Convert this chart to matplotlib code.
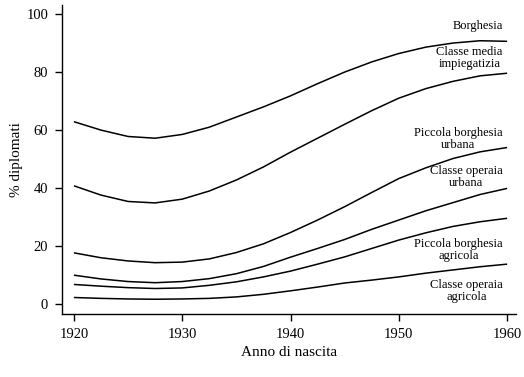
import matplotlib
matplotlib.use("Agg")
import matplotlib.pyplot as plt

years = [1920, 1922.5, 1925, 1927.5, 1930, 1932.5, 1935, 1937.5, 1940,
         1942.5, 1945, 1947.5, 1950, 1952.5, 1955, 1957.5, 1960]

borghesia = [62.9, 60.0, 57.8, 57.2, 58.5, 61.0, 64.5, 68.0, 71.8,
             76.0, 80.0, 83.5, 86.4, 88.6, 90.0, 90.8, 90.6]
classe_media = [40.8, 37.6, 35.4, 34.9, 36.2, 39.0, 42.8, 47.3, 52.4,
                57.2, 62.0, 66.7, 71.0, 74.3, 76.8, 78.7, 79.6]
piccola_borghesia_urbana = [17.7, 16.0, 14.9, 14.3, 14.5, 15.6, 17.8, 20.8, 24.7,
                            29.0, 33.6, 38.5, 43.3, 47.0, 50.2, 52.5, 54.0]
classe_operaia_urbana = [10.0, 8.7, 7.8, 7.4, 7.8, 8.8, 10.5, 13.0, 16.2,
                         19.2, 22.3, 25.8, 29.0, 32.2, 35.0, 37.8, 39.9]
piccola_borghesia_agricola = [6.8, 6.2, 5.7, 5.4, 5.6, 6.5, 7.7, 9.4, 11.4,
                              13.8, 16.3, 19.2, 22.1, 24.6, 26.8, 28.4, 29.6]
classe_operaia_agricola = [2.3, 2.0, 1.8, 1.7, 1.8, 2.0, 2.5, 3.4, 4.6,
                           5.9, 7.3, 8.3, 9.4, 10.7, 11.8, 12.9, 13.8]

series = [borghesia, classe_media, piccola_borghesia_urbana,
          classe_operaia_urbana, piccola_borghesia_agricola, classe_operaia_agricola]

labels = ["Borghesia", "Classe media\nimpiegatizia", "Piccola borghesia\nurbana",
          "Classe operaia\nurbana", "Piccola borghesia\nagricola", "Classe operaia\nagricola"]
label_y = [95.9, 84.8, 56.9, 43.8, 18.6, 4.5]

x_ticks = [1920, 1930, 1940, 1950, 1960]
y_ticks = [0, 20, 40, 60, 80, 100]

plt.rcParams['font.family'] = ['Liberation Serif', 'DejaVu Serif']

fig = plt.figure(figsize=(5.24, 3.77), dpi=100)
ax = fig.add_axes([0.1183, 0.167, 0.866, 0.8196])

for s in series:
    ax.plot(years, s, color='black', linewidth=1.1, solid_capstyle='butt')

for lab, yv in zip(labels, label_y):
    ax.text(1959.6, yv, lab, ha='right', va='center', fontsize=9,
            multialignment='center', linespacing=1.0)

ax.set_xlim(1918.9, 1960.8)
ax.set_ylim(-3.4, 103.1)
ax.set_xticks(x_ticks)
ax.set_yticks(y_ticks)
ax.spines['top'].set_visible(False)
ax.spines['right'].set_visible(False)
for sp in ['left', 'bottom']:
    ax.spines[sp].set_linewidth(1.0)
ax.tick_params(direction='out', length=5, width=1.0, labelsize=10.5, pad=5)
ax.set_xlabel("Anno di nascita", fontsize=11, labelpad=4)
ax.set_ylabel("% diplomati", fontsize=11, labelpad=2)

fig.savefig("out.png", dpi=100)
